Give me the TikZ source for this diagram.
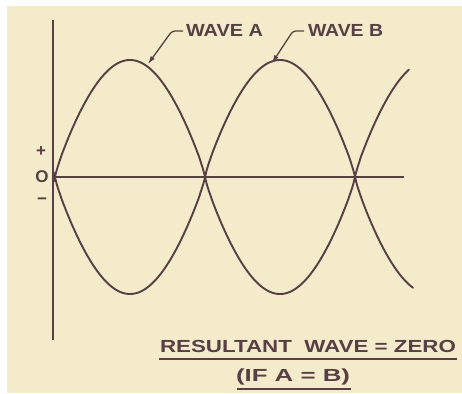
\documentclass[tikz,border=0pt]{standalone}
\usepackage{fontspec}
\newfontfamily\lab{Liberation Sans}
\usetikzlibrary{arrows.meta}
\definecolor{paper}{RGB}{244,235,203}
\definecolor{ink}{RGB}{88,63,70}
\begin{document}
\begin{tikzpicture}[x=1pt,y=-1pt, line width=2pt, draw=ink,
  lbl/.style={text=ink, inner sep=0pt, font=\lab\bfseries\fontsize{17.5}{18}\selectfont},
  sgn/.style={text=ink, inner sep=0pt, font=\lab\bfseries\fontsize{17}{17}\selectfont},
  lead/.style={line width=1.3pt, rounded corners=3pt, -{Latex[length=8pt,width=5pt]}},
  wave/.style={line width=1.9pt, line cap=round, line join=round},
  declare function={lens(\t)=sign(sin(\t))*pow(abs(sin(\t)),0.85);},
  ]
\useasboundingbox (0,0) rectangle (462,393);
\fill[white] (0,0) rectangle (462,393);
\fill[paper] (7,6) rectangle (462,393);
% axes
\coordinate (ytop) at (53,20);
\coordinate (ybot) at (53,340);
\coordinate (orig) at (53,177);
\coordinate (xend) at (404,177);
\draw (ytop) -- (ybot);
\draw (orig) -- (xend);
% waves
\draw[wave] plot[domain=54:409, samples=180, smooth] (\x,{177-117*lens(1.2*(\x-55))});
\draw[wave] plot[domain=54:413, samples=180, smooth] (\x,{177+117*lens(1.2*(\x-55))});
% signs
\node[sgn] (plus) at (41,152) {+};
\node[sgn] (zero) at (42,177) {O};
\node[sgn] (minus) at (42,201) {−};
% labels
\node[lbl, anchor=base west] (labA) at (185,37) {\resizebox{77pt}{\height}{WAVE A}};
\node[lbl, anchor=base west] (labB) at (307,37) {\resizebox{75pt}{\height}{WAVE B}};
\coordinate (tipA) at (148,64);
\coordinate (tipB) at (272,63);
\draw[lead] ([xshift=-2pt]labA.west) -- ++(-11,0) -- (tipA);
\draw[lead] ([xshift=-3pt]labB.west) -- ++(-11,0) -- (tipB);
% result
\node[lbl, anchor=base west] (res) at (159,352) {\resizebox{296pt}{\height}{RESULTANT\ \ WAVE = ZERO}};
\node[lbl, anchor=base west] (cond) at (235,381) {\resizebox{114pt}{\height}{(IF\ A = B)}};
\draw ([yshift=-5.5pt]res.south west) -- ([yshift=-5.5pt]res.south east);
\draw ([yshift=-3.5pt,xshift=2pt]cond.south west) -- ([yshift=-3.5pt]cond.south east);
\end{tikzpicture}
\end{document}
